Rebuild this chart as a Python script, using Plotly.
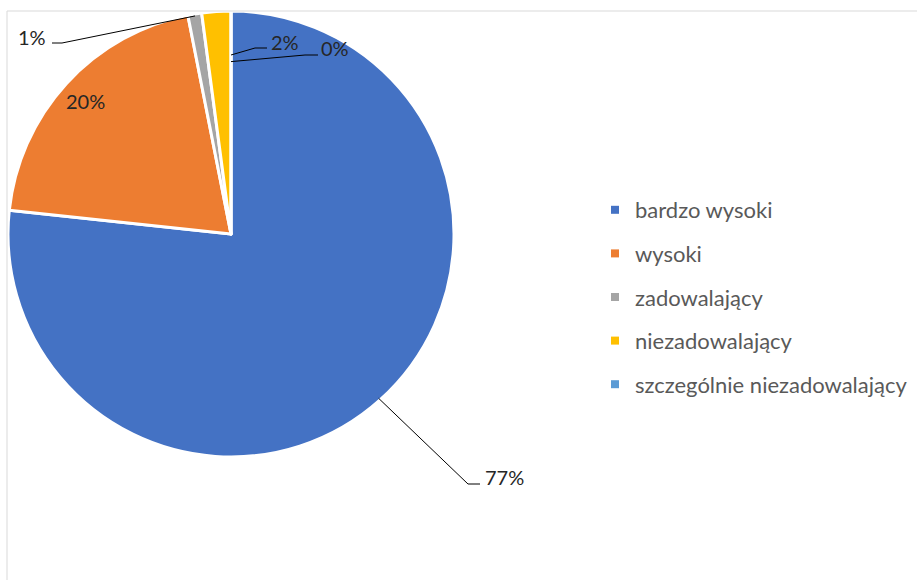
import math
import plotly.graph_objects as go

# Share of ratings in each category
categories = ["bardzo wysoki", "wysoki", "zadowalający", "niezadowalający",
              "szczególnie niezadowalający"]
values = [76.7, 20.2, 1.0, 2.1, 0.0]
colors = ["#4472C4", "#ED7D31", "#A5A5A5", "#FFC000", "#5B9BD5"]

W, H = 917, 580
CX, CY, R = 231, 234, 221  # pie centre and radius in pixels


def px(x):
    return x / W


def py(y):
    return 1 - y / H


total = sum(values)
shares = [v / total for v in values]
starts = []
acc = 0.0
for s in shares:
    starts.append(acc)
    acc += s


def point(frac, rfrac):
    a = 2 * math.pi * frac
    return CX + rfrac * R * math.sin(a), CY - rfrac * R * math.cos(a)


fig = go.Figure()
fig.add_trace(go.Pie(
    labels=categories, values=values, sort=False, direction="clockwise",
    rotation=0, marker=dict(colors=colors, line=dict(color="white", width=3)),
    textinfo="none", hoverinfo="label+percent", showlegend=False,
    domain=dict(x=[px(CX - R - 2), px(CX + R + 2)], y=[py(CY + R + 2), py(CY - R - 2)]),
))

# legend entries
for i, (c, col) in enumerate(zip(categories, colors)):
    fig.add_trace(go.Scatter(
        x=[None], y=[None], mode="markers", name=c, legendgroup=f"g{i}",
        marker=dict(symbol="square", size=8, color=col),
    ))

pct = [f"{round(s * 100)}%" for s in shares]
label_font = dict(family="Lato, Carlito, Calibri, sans-serif", size=20, color="#262626")

# label placement: (slice index, anchor fraction along slice, anchor radius, elbow, end, text pos, xanchor)
leaders = [
    (0, 0.5, 1.0, (468, 484), (480, 484), (483, 477), "left"),
    (2, 0.5, 1.0, (62, 43), (52, 43), (48, 37), "right"),
    (3, 1.0, 0.81, (255, 48), (267, 48), (269, 42), "left"),
    (4, 0.5, 0.78, (305, 55), (318, 55), (319, 48), "left"),
]
shapes = [dict(type="rect", xref="paper", yref="paper", x0=px(7), y0=py(600),
               x1=px(940), y1=py(11), line=dict(color="#D9D9D9", width=1))]
annotations = []
for idx, f, rf, elbow, end, tpos, xa in leaders:
    ax, ay = point(starts[idx] + f * shares[idx], rf)
    path = (f"M{px(ax)},{py(ay)} L{px(elbow[0])},{py(elbow[1])} "
            f"L{px(end[0])},{py(end[1])}")
    shapes.append(dict(type="path", xref="paper", yref="paper", path=path,
                       line=dict(color="#000000", width=1)))
    annotations.append(dict(x=px(tpos[0]), y=py(tpos[1]), xref="paper", yref="paper",
                            text=pct[idx], showarrow=False, xanchor=xa,
                            yanchor="middle", font=label_font))

# inside label for the second slice
lx, ly = point(starts[1] + shares[1] / 2, 0.89)
annotations.append(dict(x=px(lx), y=py(ly), xref="paper", yref="paper", text=pct[1],
                        showarrow=False, xanchor="center", yanchor="middle",
                        font=label_font))

fig.update_layout(
    width=W, height=H, margin=dict(l=0, r=0, t=0, b=0),
    paper_bgcolor="white", plot_bgcolor="white",
    xaxis=dict(visible=False), yaxis=dict(visible=False),
    shapes=shapes, annotations=annotations,
    legend=dict(x=px(595), y=py(189), xanchor="left", yanchor="top",
                traceorder="grouped", tracegroupgap=12,
                font=dict(family="Lato, Carlito, Calibri, sans-serif", size=22,
                          color="#595959"),
                bgcolor="rgba(0,0,0,0)"),
)

fig.write_html("out.html")
